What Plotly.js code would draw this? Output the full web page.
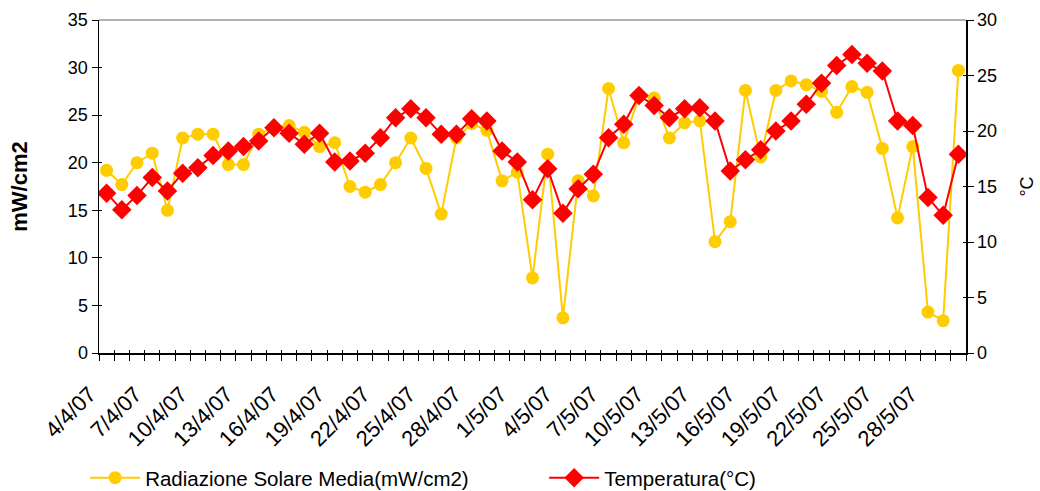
<!DOCTYPE html>
<html>
<head>
<meta charset="utf-8">
<script src="https://cdn.plot.ly/plotly-3.0.1.min.js"></script>
<style>html,body{margin:0;padding:0;background:#fff;}#chart{width:1040px;height:491px;}</style>
</head>
<body>
<div id="chart"></div>
<script>
const dates = ["4/4/07","5/4/07","6/4/07","7/4/07","8/4/07","9/4/07","10/4/07","11/4/07","12/4/07","13/4/07",
"14/4/07","15/4/07","16/4/07","17/4/07","18/4/07","19/4/07","20/4/07","21/4/07","22/4/07","23/4/07",
"24/4/07","25/4/07","26/4/07","27/4/07","28/4/07","29/4/07","30/4/07","1/5/07","2/5/07","3/5/07",
"4/5/07","5/5/07","6/5/07","7/5/07","8/5/07","9/5/07","10/5/07","11/5/07","12/5/07","13/5/07",
"14/5/07","15/5/07","16/5/07","17/5/07","18/5/07","19/5/07","20/5/07","21/5/07","22/5/07","23/5/07",
"24/5/07","25/5/07","26/5/07","27/5/07","28/5/07","29/5/07","30/5/07"];

const radiazione = [19.2,17.7,20.0,21.0,15.0,22.6,23.0,23.0,19.8,19.8,
23.0,23.7,23.9,23.2,21.7,22.1,17.5,16.9,17.7,20.0,
22.6,19.4,14.6,22.6,24.1,23.4,18.1,19.0,7.9,20.9,
3.7,18.1,16.5,27.8,22.1,27.0,26.8,22.6,24.2,24.4,
11.7,13.8,27.6,20.6,27.6,28.6,28.2,27.5,25.3,28.0,
27.4,21.5,14.2,21.7,4.3,3.4,29.7];

const temperatura = [14.4,12.9,14.2,15.8,14.6,16.2,16.7,17.8,18.2,18.6,
19.1,20.3,19.8,18.8,19.8,17.2,17.3,18.0,19.4,21.2,
22.0,21.2,19.7,19.7,21.1,20.9,18.2,17.2,13.8,16.6,
12.6,14.8,16.1,19.4,20.6,23.2,22.3,21.2,22.0,22.1,
20.9,16.4,17.4,18.3,20.0,20.9,22.4,24.3,25.9,26.9,
26.1,25.4,20.9,20.5,14.0,12.4,17.9];

const labelDates = dates.filter((d, i) => i % 3 === 0);

const FONT = "Liberation Sans, Arial, sans-serif";

const traces = [
  {
    x: dates, y: radiazione, name: "Radiazione Solare Media(mW/cm2)",
    type: "scatter", mode: "lines+markers", yaxis: "y", xaxis: "x",
    line: {color: "#FFCC00", width: 2},
    marker: {color: "#FFCC00", size: 13, symbol: "circle"}
  },
  {
    x: dates, y: temperatura, name: "Temperatura(°C)",
    type: "scatter", mode: "lines+markers", yaxis: "y2", xaxis: "x",
    line: {color: "#FF0000", width: 2},
    marker: {color: "#FF0000", size: 15, symbol: "diamond"}
  },
  {x: [dates[0]], y: [null], xaxis: "x2", yaxis: "y", showlegend: false,
   hoverinfo: "skip", type: "scatter", mode: "markers"},
  {x: [dates[0]], y: [null], xaxis: "x3", yaxis: "y3", showlegend: false,
   hoverinfo: "skip", type: "scatter", mode: "markers"},
  {x: [dates[0]], y: [null], xaxis: "x3", yaxis: "y4", showlegend: false,
   hoverinfo: "skip", type: "scatter", mode: "markers"}
];

const layout = {
  width: 1040, height: 491,
  margin: {l: 99, r: 74, t: 20, b: 138, autoexpand: false},
  paper_bgcolor: "#fff", plot_bgcolor: "#fff",
  font: {family: FONT, size: 18, color: "#000"},
  showlegend: true,
  legend: {orientation: "h", x: -0.016, xanchor: "left", y: -0.375, yanchor: "middle",
           font: {family: FONT, size: 20.5, color: "#000"}, entrywidth: 394, entrywidthmode: "pixels",
           itemwidth: 50, bgcolor: "rgba(0,0,0,0)"},
  xaxis: {
    type: "category", categoryorder: "array", categoryarray: dates,
    range: [-0.5, dates.length - 0.5],
    showline: true, linecolor: "#000", linewidth: 1.5,
    ticks: "outside", ticklen: 6, tickcolor: "#000", tickwidth: 1,
    tickson: "boundaries", showticklabels: false, showgrid: false, zeroline: false
  },
  xaxis2: {
    type: "category", categoryorder: "array", categoryarray: dates,
    range: [-0.5, dates.length - 0.5],
    overlaying: "x", side: "bottom", anchor: "y",
    tickmode: "array", tickvals: labelDates, ticktext: labelDates,
    tickangle: -45, ticks: "", showline: false, showgrid: false, zeroline: false,
    ticklabelstandoff: 23, ticklabelshift: -17,
    tickfont: {family: FONT, size: 22, color: "#000"}
  },
  xaxis3: {
    type: "category", categoryorder: "array", categoryarray: dates,
    range: [-0.5, dates.length - 0.5],
    overlaying: "x", side: "bottom", anchor: "y",
    ticks: "inside", ticklen: 3, tickcolor: "#000", tickwidth: 1,
    tickson: "boundaries", showticklabels: false, showline: false, showgrid: false, zeroline: false
  },
  yaxis: {
    range: [0, 35], dtick: 5, tick0: 0,
    showline: true, linecolor: "#000", linewidth: 1.5,
    ticks: "outside", ticklen: 6, tickcolor: "#000",
    showgrid: false, zeroline: false,
    tickfont: {family: FONT, size: 18, color: "#000"},
    title: {text: "<b>mW/cm2</b>", font: {family: FONT, size: 22, color: "#000"}, standoff: 34}
  },
  yaxis2: {
    range: [0, 30], dtick: 5, tick0: 0,
    overlaying: "y", side: "right", anchor: "x",
    showline: true, linecolor: "#000", linewidth: 1.5,
    ticks: "outside", ticklen: 6, tickcolor: "#000",
    showgrid: false, zeroline: false,
    tickfont: {family: FONT, size: 18, color: "#000"},
    title: {text: "°C", font: {family: FONT, size: 18, color: "#000"}, standoff: 24}
  },
  yaxis3: {
    range: [0, 35], dtick: 5, tick0: 0, overlaying: "y", side: "left", anchor: "x",
    ticks: "inside", ticklen: 3, tickcolor: "#000", showticklabels: false,
    showline: false, showgrid: false, zeroline: false
  },
  yaxis4: {
    range: [0, 30], dtick: 5, tick0: 0, overlaying: "y", side: "right", anchor: "x",
    ticks: "inside", ticklen: 3, tickcolor: "#000", showticklabels: false,
    showline: false, showgrid: false, zeroline: false
  },
  shapes: [
    {type: "line", xref: "paper", yref: "paper", x0: 0, x1: 1, y0: 1, y1: 1,
     line: {color: "#999", width: 1.5}}
  ]
};

Plotly.newPlot("chart", traces, layout, {displayModeBar: false, staticPlot: true});
</script>
</body>
</html>
